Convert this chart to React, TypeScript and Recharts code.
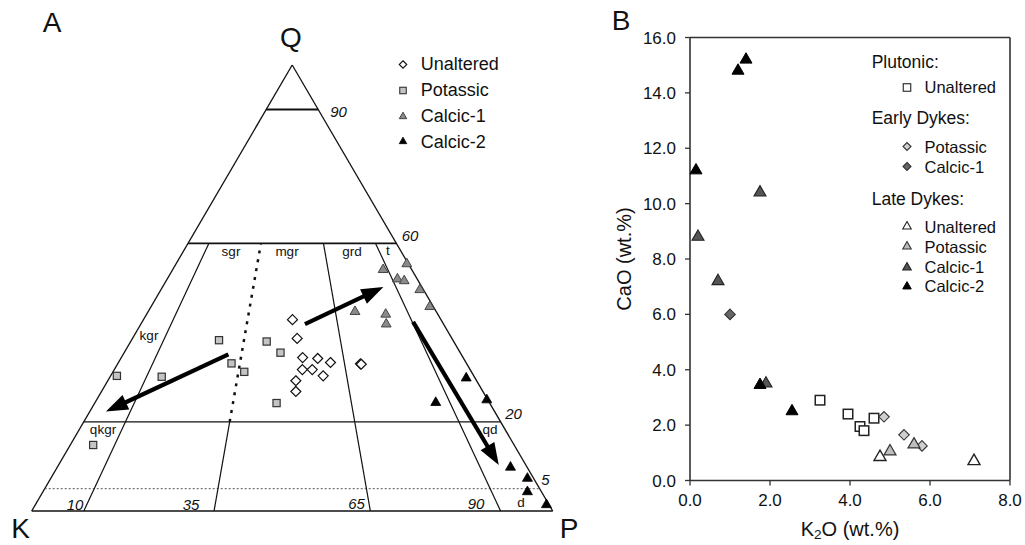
import React from "react";
import { ScatterChart, Scatter, XAxis, YAxis, ReferenceLine } from "recharts";

const FONT = '"Liberation Sans", Arial, Helvetica, sans-serif';

// ---- Panel A: QAP ternary, rows are [Q, A(K), P] in % ----
const qapUnaltered = [
  [42.9, 28.5, 28.6],
  [38.7, 29.7, 31.6],
  [34.4, 30.8, 34.8],
  [34.2, 28.0, 37.8],
  [33.3, 26.0, 40.7],
  [31.7, 32.2, 36.1],
  [31.7, 30.3, 38.0],
  [30.3, 28.9, 40.8],
  [29.2, 34.7, 36.1],
  [26.8, 35.9, 37.3],
  [33.0, 20.4, 46.6],
  [32.9, 20.3, 46.8],
];
const qapPotassic = [
  [38.3, 44.9, 16.8],
  [38.0, 35.9, 26.1],
  [35.5, 34.5, 30.0],
  [33.1, 45.1, 21.8],
  [31.2, 43.6, 25.2],
  [30.3, 68.5, 1.2],
  [30.1, 60.0, 9.9],
  [24.2, 40.9, 34.9],
  [14.8, 80.8, 4.4],
];
const qapCalcic1 = [
  [54.1, 5.5, 40.4],
  [52.0, 3.8, 44.2],
  [51.6, 2.7, 45.7],
  [55.4, 0.3, 44.3],
  [49.6, 0.7, 49.7],
  [45.8, 0.7, 53.5],
  [44.7, 15.6, 39.7],
  [44.1, 10.0, 45.9],
  [41.9, 11.0, 47.1],
];
const qapCalcic2 = [
  [29.8, 1.7, 68.5],
  [24.9, 0.2, 74.9],
  [24.3, 10.3, 65.4],
  [9.8, 3.2, 87.0],
  [7.3, 1.2, 91.5],
  [4.3, 2.7, 93.0],
  [1.4, 0.5, 98.1],
];
const quartzLines = [90, 60, 20];
const quartzDotted = 5;
const plagRatios = [10, 35, 65, 90];
const ratioTop = 60;
const sgrMgrBreak = 20; // the 35 line is dotted above Q=20
const qapArrows = [
  { from: [35.1, 44.7, 20.2], to: [22.3, 74.6, 3.1] },
  { from: [41.9, 26.6, 31.5], to: [50.2, 7.4, 42.4] },
  { from: [42.4, 5.6, 52.0], to: [10.3, 5.2, 84.5] },
];

// ---- Panel B: [K2O, CaO] wt.% ----
const plutonicUnaltered = [[3.25, 2.9], [3.95, 2.4], [4.25, 1.95], [4.35, 1.8], [4.6, 2.25]];
const earlyPotassic = [[4.85, 2.3], [5.35, 1.65], [5.8, 1.25]];
const earlyCalcic1 = [[1.0, 6.0]];
const lateUnaltered = [[4.75, 0.85], [7.1, 0.7]];
const latePotassic = [[5.0, 1.05], [5.6, 1.3]];
const lateCalcic1 = [[1.75, 10.4], [0.2, 8.8], [0.7, 7.2], [1.9, 3.5]];
const lateCalcic2 = [[1.4, 15.2], [1.2, 14.8], [0.15, 11.2], [1.75, 3.45], [2.55, 2.5]];
const xTicks = [0, 2, 4, 6, 8];
const yTicks = [0, 2, 4, 6, 8, 10, 12, 14, 16];

function tern([q, a, p]: number[]) {
  const s = q + a + p;
  return { x: ((p + q / 2) * 100) / s, y: (q * 100) / s };
}
const atRatio = (r: number, q: number) => tern([q, ((100 - q) * (100 - r)) / 100, ((100 - q) * r) / 100]);

type Seg = { pts: { x: number; y: number }[]; w: number; dash?: string; color?: string };
const segs: Seg[] = [
  { pts: [tern([0, 100, 0]), tern([0, 0, 100])], w: 1.4 },
  { pts: [tern([0, 100, 0]), tern([100, 0, 0])], w: 1.3 },
  { pts: [tern([0, 0, 100]), tern([100, 0, 0])], w: 1.3 },
  ...quartzLines.map((q) => ({ pts: [tern([q, 100 - q, 0]), tern([q, 0, 100 - q])], w: q === 90 ? 2 : q === 60 ? 1.6 : 1.3 })),
  { pts: [tern([quartzDotted, 100 - quartzDotted, 0]), tern([quartzDotted, 0, 100 - quartzDotted])], w: 1, dash: "2 2", color: "#555" },
  ...plagRatios.flatMap((r) =>
    r === 35
      ? [
          { pts: [atRatio(r, 0), atRatio(r, sgrMgrBreak)], w: 1.2 },
          { pts: [atRatio(r, sgrMgrBreak), atRatio(r, ratioTop)], w: 2.5, dash: "3 6" },
        ]
      : [{ pts: [atRatio(r, 0), atRatio(r, ratioTop)], w: 1.2 }]
  ),
];

function Mark({ cx, cy, kind, size, fill, stroke, sw }: any) {
  if (kind === "square") {
    return <rect x={cx - size / 2} y={cy - size / 2} width={size} height={size} fill={fill} stroke={stroke} strokeWidth={sw} />;
  }
  if (kind === "diamond") {
    const r = size / 2;
    return <polygon points={`${cx},${cy - r} ${cx + r},${cy} ${cx},${cy + r} ${cx - r},${cy}`} fill={fill} stroke={stroke} strokeWidth={sw} />;
  }
  const h = size * 0.866;
  return (
    <polygon
      points={`${cx},${cy - (2 * h) / 3} ${cx + size / 2},${cy + h / 3} ${cx - size / 2},${cy + h / 3}`}
      fill={fill}
      stroke={stroke}
      strokeWidth={sw}
    />
  );
}

function ArrowShape(props: any) {
  const { x1, y1, x2, y2 } = props;
  const dx = x2 - x1;
  const dy = y2 - y1;
  const len = Math.hypot(dx, dy);
  const ux = dx / len;
  const uy = dy / len;
  const hl = 22;
  const hw = 8;
  const bx = x2 - ux * hl;
  const by = y2 - uy * hl;
  return (
    <g>
      <line x1={x1} y1={y1} x2={bx + ux * 3} y2={by + uy * 3} stroke="#000" strokeWidth={4.2} />
      <polygon points={`${x2},${y2} ${bx - uy * hw},${by + ux * hw} ${bx + uy * hw},${by - ux * hw}`} fill="#000" />
    </g>
  );
}

const ternStyle = {
  unaltered: { kind: "diamond", size: 10, fill: "#fff", stroke: "#111", sw: 1.2 },
  potassic: { kind: "square", size: 7.2, fill: "#c4c4c4", stroke: "#333", sw: 1.2 },
  calcic1: { kind: "triangle", size: 9.8, fill: "#8a8a8a", stroke: "#444", sw: 1 },
  calcic2: { kind: "triangle", size: 10, fill: "#000", stroke: "#000", sw: 0.8 },
};

const bStyle = {
  plutUn: { kind: "square", size: 9.5, fill: "#fff", stroke: "#222", sw: 1.5 },
  earlyPot: { kind: "diamond", size: 10.5, fill: "#cfcfcf", stroke: "#333", sw: 1.1 },
  earlyCa1: { kind: "diamond", size: 10.5, fill: "#666", stroke: "#333", sw: 1.1 },
  lateUn: { kind: "triangle", size: 12, fill: "#fff", stroke: "#222", sw: 1.4 },
  latePot: { kind: "triangle", size: 12, fill: "#bdbdbd", stroke: "#333", sw: 1.2 },
  lateCa1: { kind: "triangle", size: 12, fill: "#555", stroke: "#222", sw: 1.1 },
  lateCa2: { kind: "triangle", size: 12, fill: "#000", stroke: "#000", sw: 1 },
};

function Sym({ st, size }: any) {
  return (
    <svg width={14} height={14} style={{ display: "block" }}>
      <Mark cx={7} cy={7.5} kind={st.kind} size={size} fill={st.fill} stroke={st.stroke} sw={Math.min(st.sw, 1.1)} />
    </svg>
  );
}

function Txt({ x, y, size, italic, anchor = "middle", rotate, children }: any) {
  const tx = anchor === "middle" ? "-50%" : anchor === "end" ? "-100%" : "0";
  return (
    <div
      style={{
        position: "absolute",
        left: x,
        top: y,
        transform: `translate(${tx}, -50%)${rotate ? ` rotate(${rotate}deg)` : ""}`,
        fontSize: size,
        fontStyle: italic ? "italic" : "normal",
        lineHeight: 1,
        whiteSpace: "nowrap",
        color: "#111",
        pointerEvents: "none",
      }}
    >
      {children}
    </div>
  );
}

function LegendRow({ x, y, st, label, size = 18, sym = 7 }: any) {
  return (
    <>
      <div style={{ position: "absolute", left: x - 7, top: y - 7.5 }}>
        <Sym st={st} size={sym} />
      </div>
      <Txt x={x + 17.5} y={y} size={size} anchor="start">
        {label}
      </Txt>
    </>
  );
}

const shapeOf = (st: any) => (p: any) => <Mark cx={p.cx} cy={p.cy} {...st} />;
const toXY = (rows: number[][]) => rows.map(([x, y]) => ({ x, y }));

export default function App() {
  return (
    <div style={{ position: "absolute", left: 0, top: 0, width: 1025, height: 545, background: "#fff", fontFamily: FONT, overflow: "hidden" }}>
      {/* Panel A */}
      <div style={{ position: "absolute", left: 0, top: 0 }}>
        <ScatterChart width={600} height={545} margin={{ top: 65, right: 47.3, bottom: 34, left: 31.7 }}>
          <XAxis type="number" dataKey="x" domain={[0, 100]} hide />
          <YAxis type="number" dataKey="y" domain={[0, 100]} hide />
          {segs.map((s, i) => (
            <ReferenceLine
              key={`seg-${i}`}
              segment={s.pts}
              stroke={s.color || "#111"}
              strokeWidth={s.w}
              strokeDasharray={s.dash}
              ifOverflow="visible"
            />
          ))}
          {qapArrows.map((a, i) => (
            <ReferenceLine key={`arr-${i}`} segment={[tern(a.from), tern(a.to)]} ifOverflow="visible" shape={ArrowShape} />
          ))}
          <Scatter data={qapPotassic.map(tern)} isAnimationActive={false} shape={shapeOf(ternStyle.potassic)} />
          <Scatter data={qapUnaltered.map(tern)} isAnimationActive={false} shape={shapeOf(ternStyle.unaltered)} />
          <Scatter data={qapCalcic1.map(tern)} isAnimationActive={false} shape={shapeOf(ternStyle.calcic1)} />
          <Scatter data={qapCalcic2.map(tern)} isAnimationActive={false} shape={shapeOf(ternStyle.calcic2)} />
        </ScatterChart>
      </div>

      {/* Panel B */}
      <div style={{ position: "absolute", left: 560, top: 0 }}>
        <ScatterChart width={465} height={545} margin={{ top: 37.5, right: 15, bottom: 34.5, left: 70 }}>
          <XAxis
            type="number"
            dataKey="x"
            domain={[0, 8]}
            ticks={xTicks}
            tickFormatter={(v) => v.toFixed(1)}
            tick={{ fontSize: 17, fill: "#111", fontFamily: FONT }}
            tickSize={5}
            tickMargin={8}
            height={30}
            axisLine={{ stroke: "#333", strokeWidth: 1.6 }}
            tickLine={{ stroke: "#333", strokeWidth: 1.3 }}
          />
          <YAxis
            type="number"
            dataKey="y"
            domain={[0, 16]}
            ticks={yTicks}
            tickFormatter={(v) => v.toFixed(1)}
            tick={{ fontSize: 17, fill: "#111", fontFamily: FONT }}
            tickSize={5}
            tickMargin={9}
            width={60}
            axisLine={{ stroke: "#333", strokeWidth: 1.6 }}
            tickLine={{ stroke: "#333", strokeWidth: 1.3 }}
          />
          <ReferenceLine y={16} stroke="#333" strokeWidth={1.6} ifOverflow="visible" />
          <ReferenceLine x={8} stroke="#333" strokeWidth={1.6} ifOverflow="visible" />
          <Scatter data={toXY(plutonicUnaltered)} isAnimationActive={false} shape={shapeOf(bStyle.plutUn)} />
          <Scatter data={toXY(earlyPotassic)} isAnimationActive={false} shape={shapeOf(bStyle.earlyPot)} />
          <Scatter data={toXY(earlyCalcic1)} isAnimationActive={false} shape={shapeOf(bStyle.earlyCa1)} />
          <Scatter data={toXY(lateUnaltered)} isAnimationActive={false} shape={shapeOf(bStyle.lateUn)} />
          <Scatter data={toXY(latePotassic)} isAnimationActive={false} shape={shapeOf(bStyle.latePot)} />
          <Scatter data={toXY(lateCalcic1)} isAnimationActive={false} shape={shapeOf(bStyle.lateCa1)} />
          <Scatter data={toXY(lateCalcic2)} isAnimationActive={false} shape={shapeOf(bStyle.lateCa2)} />
        </ScatterChart>
      </div>

      {/* Panel A annotations */}
      <Txt x={52} y={23} size={28}>A</Txt>
      <Txt x={291} y={38} size={28}>Q</Txt>
      <Txt x={20.5} y={529} size={28}>K</Txt>
      <Txt x={569} y={529} size={28}>P</Txt>
      <Txt x={338.5} y={110.5} size={15} italic>90</Txt>
      <Txt x={410} y={234.5} size={15} italic>60</Txt>
      <Txt x={513.5} y={412.5} size={15} italic>20</Txt>
      <Txt x={545.5} y={479} size={15} italic>5</Txt>
      <Txt x={75} y={504} size={15} italic>10</Txt>
      <Txt x={191} y={504} size={15} italic>35</Txt>
      <Txt x={356.5} y={503} size={15} italic>65</Txt>
      <Txt x={476} y={503} size={15} italic>90</Txt>
      <Txt x={231} y={252} size={13.5}>sgr</Txt>
      <Txt x={287} y={252} size={13.5}>mgr</Txt>
      <Txt x={352} y={252} size={13.5}>grd</Txt>
      <Txt x={388} y={251} size={13.5}>t</Txt>
      <Txt x={149} y={336} size={13.5}>kgr</Txt>
      <Txt x={103} y={430} size={13.5}>qkgr</Txt>
      <Txt x={490} y={430} size={13.5}>qd</Txt>
      <Txt x={521} y={503} size={13.5}>d</Txt>
      <LegendRow x={403.3} y={64.3} st={ternStyle.unaltered} label="Unaltered" sym={7.5} />
      <LegendRow x={403.3} y={90} st={ternStyle.potassic} label="Potassic" sym={6.5} />
      <LegendRow x={403.3} y={116} st={ternStyle.calcic1} label="Calcic-1" sym={7.5} />
      <LegendRow x={403.3} y={141.7} st={ternStyle.calcic2} label="Calcic-2" sym={7.5} />

      {/* Panel B annotations */}
      <Txt x={621} y={21} size={28}>B</Txt>
      <Txt x={623.5} y={259} size={20} rotate={-90}>CaO (wt.%)</Txt>
      <Txt x={850} y={529} size={20}>
        K<sub style={{ fontSize: "0.68em", verticalAlign: "-0.25em", lineHeight: 0 }}>2</sub>O (wt.%)
      </Txt>
      <Txt x={871.7} y={63.3} size={17.5} anchor="start">Plutonic:</Txt>
      <LegendRow x={907} y={87.3} st={bStyle.plutUn} label="Unaltered" size={16.5} sym={7.5} />
      <Txt x={871.7} y={119.3} size={17.5} anchor="start">Early Dykes:</Txt>
      <LegendRow x={907} y={146.7} st={bStyle.earlyPot} label="Potassic" size={16.5} sym={8} />
      <LegendRow x={907} y={166.7} st={bStyle.earlyCa1} label="Calcic-1" size={16.5} sym={8} />
      <Txt x={871.7} y={200} size={17.5} anchor="start">Late Dykes:</Txt>
      <LegendRow x={907} y={226.7} st={bStyle.lateUn} label="Unaltered" size={16.5} sym={8.5} />
      <LegendRow x={907} y={246.7} st={bStyle.latePot} label="Potassic" size={16.5} sym={8.5} />
      <LegendRow x={907} y={267.3} st={bStyle.lateCa1} label="Calcic-1" size={16.5} sym={8.5} />
      <LegendRow x={907} y={286} st={bStyle.lateCa2} label="Calcic-2" size={16.5} sym={8.5} />
    </div>
  );
}
